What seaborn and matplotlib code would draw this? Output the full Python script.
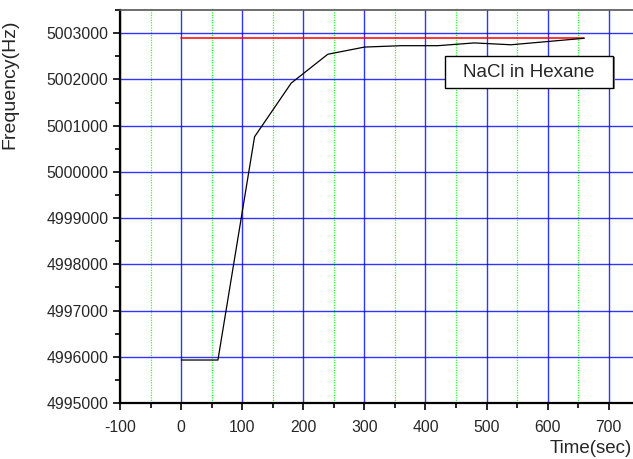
import numpy as np
import pandas as pd
import matplotlib
matplotlib.use('Agg')
import matplotlib.pyplot as plt
import seaborn as sns
from matplotlib.patches import Rectangle
from matplotlib.ticker import MultipleLocator

# Data
time_sec = [0, 60, 120, 180, 240, 300, 360, 420, 480, 540, 600, 660]
freq_hz = [4995930, 4995930, 5000760, 5001920, 5002545, 5002700,
           5002730, 5002730, 5002790, 5002750, 5002820, 5002890]
ref_time = [0, 660]
ref_freq = [5002890, 5002890]
legend_text = 'NaCl in Hexane'

sns.set_style('white')
plt.rcParams['font.family'] = ['Liberation Sans', 'DejaVu Sans']
plt.rcParams['axes.unicode_minus'] = False

fig = plt.figure(figsize=(6.33, 4.59), dpi=100)
ax = fig.add_axes([0.190, 0.122, 0.810, 0.856])

df = pd.DataFrame({'Time': time_sec, 'Freq': freq_hz})
ref = pd.DataFrame({'Time': ref_time, 'Freq': ref_freq})

ax.set_xlim(-100, 740)
ax.set_ylim(4995000, 5003500)

ax.xaxis.set_major_locator(MultipleLocator(100))
ax.xaxis.set_minor_locator(MultipleLocator(50))
ax.yaxis.set_major_locator(MultipleLocator(1000))
ax.yaxis.set_minor_locator(MultipleLocator(500))

# grid: blue major, green dotted on the odd 50s
for xv in np.arange(-50, 740, 100):
    ax.axvline(xv, color='#33ff33', lw=0.9, ls=(0, (1, 1)), zorder=0)
ax.grid(True, which='major', axis='both', color='#0000ff', lw=1.0, alpha=0.8)
ax.set_axisbelow(True)

sns.lineplot(data=ref, x='Time', y='Freq', color='red', lw=1.1, ax=ax)
sns.lineplot(data=df, x='Time', y='Freq', color='black', lw=0.9, ax=ax)

ax.tick_params(which='major', direction='out', length=5, width=1.2,
               labelsize=11.3, color='black', left=True, bottom=True)
ax.tick_params(axis='x', which='major', pad=7)
ax.tick_params(which='minor', direction='out', length=3.5, width=1.2,
               color='black', left=True, bottom=True)
ax.ticklabel_format(useOffset=False, style='plain', axis='y')

for side in ['left', 'bottom']:
    ax.spines[side].set_color('black')
    ax.spines[side].set_linewidth(1.6)
ax.spines['top'].set_color('#555555')
ax.spines['top'].set_linewidth(1.2)
ax.spines['right'].set_visible(False)

ax.set_xlabel('')
ax.set_ylabel('Frequency(Hz)', fontsize=14)
ax.yaxis.set_label_coords(-0.198, 0.812)
fig.text(0.999, 0.004, 'Time(sec)', fontsize=13.5, ha='right', va='bottom')

# legend-like label box with slight shadow
ax.add_patch(Rectangle((0.636, 0.799), 0.328, 0.081, transform=ax.transAxes,
                       fc='#888888', ec='none', zorder=4))
ax.add_patch(Rectangle((0.633, 0.802), 0.328, 0.081, transform=ax.transAxes,
                       fc='white', ec='black', lw=1.0, zorder=5))
ax.text(0.797, 0.842, legend_text, transform=ax.transAxes, fontsize=13.5,
        ha='center', va='center', zorder=6)

fig.savefig('out.png', dpi=100)
